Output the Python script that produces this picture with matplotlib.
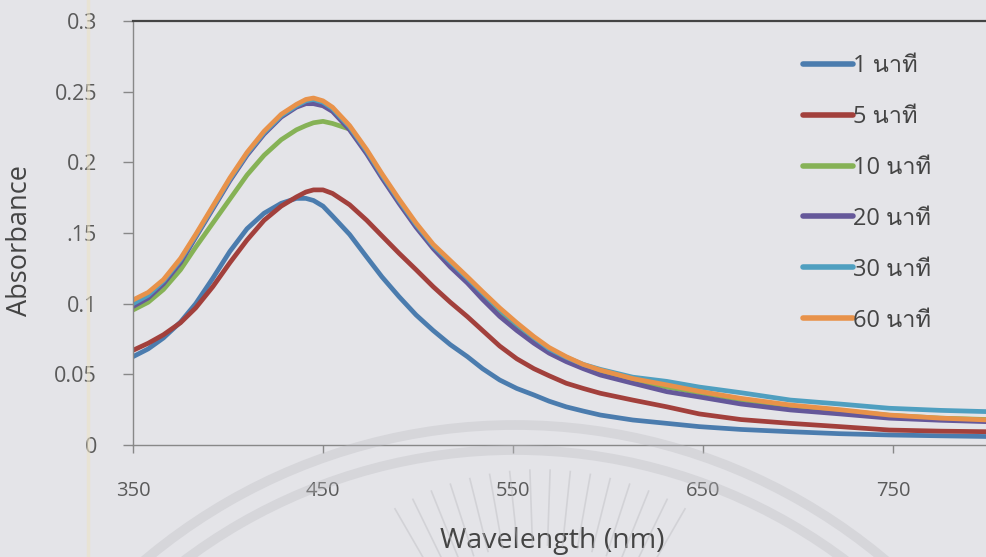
import matplotlib
matplotlib.use("Agg")
import numpy as np
import matplotlib.pyplot as plt
from matplotlib import font_manager as fm
from matplotlib.ft2font import FT2Font
from matplotlib.patches import Arc
from matplotlib.lines import Line2D

# Wavelength grid (nm) and absorbance for each reaction time
wavelength = [350, 358, 366, 375, 383, 392, 401, 410, 419, 428, 436, 441, 445, 450,
              455, 464, 473, 481, 490, 499, 508, 517, 526, 534, 543, 552, 561, 569,
              578, 587, 596, 613, 631, 648, 670, 696, 722, 748, 775, 800]

abs_1min = [0.0625, 0.068, 0.0757, 0.087, 0.100, 0.118, 0.137, 0.153, 0.164, 0.171,
            0.1745, 0.1745, 0.173, 0.169, 0.162, 0.149, 0.133, 0.119, 0.105, 0.092,
            0.081, 0.071, 0.0625, 0.054, 0.046, 0.040, 0.0354, 0.031, 0.027, 0.024,
            0.0212, 0.0177, 0.0153, 0.013, 0.011, 0.0094, 0.008, 0.0071, 0.0065, 0.006]
abs_5min = [0.067, 0.072, 0.078, 0.0865, 0.097, 0.112, 0.129, 0.145, 0.159, 0.169,
            0.1755, 0.179, 0.1805, 0.1805, 0.178, 0.170, 0.159, 0.148, 0.1357, 0.124,
            0.112, 0.101, 0.0908, 0.081, 0.070, 0.061, 0.054, 0.049, 0.0437, 0.040,
            0.0366, 0.0318, 0.027, 0.022, 0.018, 0.0153, 0.013, 0.0106, 0.0098, 0.0094]
abs_10min = [0.0955, 0.101, 0.110, 0.124, 0.140, 0.157, 0.174, 0.191, 0.205, 0.216,
             0.223, 0.226, 0.228, 0.229, 0.2275, 0.2235, 0.207, 0.190, 0.172, 0.155,
             0.140, 0.127, 0.116, 0.105, 0.094, 0.084, 0.075, 0.067, 0.061, 0.056,
             0.0515, 0.0455, 0.041, 0.037, 0.032, 0.0275, 0.0245, 0.021, 0.019, 0.018]
abs_20min = [0.098, 0.104, 0.114, 0.129, 0.147, 0.167, 0.187, 0.205, 0.220, 0.232,
             0.239, 0.2415, 0.2415, 0.240, 0.236, 0.223, 0.206, 0.189, 0.171, 0.154,
             0.139, 0.126, 0.1146, 0.103, 0.091, 0.081, 0.072, 0.065, 0.059, 0.054,
             0.0495, 0.0437, 0.0377, 0.034, 0.029, 0.0248, 0.022, 0.019, 0.0175, 0.0165]
abs_30min = [0.100, 0.106, 0.116, 0.131, 0.148, 0.168, 0.188, 0.206, 0.221, 0.233,
             0.240, 0.2435, 0.2445, 0.2425, 0.238, 0.225, 0.208, 0.191, 0.173, 0.156,
             0.141, 0.1295, 0.118, 0.1075, 0.096, 0.0855, 0.076, 0.068, 0.062, 0.057,
             0.0535, 0.048, 0.045, 0.041, 0.037, 0.0318, 0.029, 0.026, 0.0245, 0.0236]
abs_60min = [0.1026, 0.108, 0.117, 0.132, 0.149, 0.169, 0.189, 0.207, 0.222, 0.234,
             0.241, 0.2445, 0.2455, 0.2435, 0.239, 0.226, 0.209, 0.192, 0.174, 0.157,
             0.142, 0.1305, 0.119, 0.1085, 0.097, 0.0865, 0.0767, 0.069, 0.0625, 0.057,
             0.053, 0.047, 0.0425, 0.038, 0.033, 0.0283, 0.025, 0.0212, 0.019, 0.0177]

series_labels = ["1 นาที", "5 นาที", "10 นาที", "20 นาที", "30 นาที", "60 นาที"]
series_values = [abs_1min, abs_5min, abs_10min, abs_20min, abs_30min, abs_60min]
series_colors = ["#4b7cae", "#a2403c", "#86b256", "#65589a", "#4f9fc0", "#e8924a"]

y_ticks = [0, 0.05, 0.1, 0.15, 0.2, 0.25, 0.3]
y_tick_labels = ["0", "0.05", "0.1", ".15", "0.2", "0.25", "0.3"]
x_ticks = [350, 450, 550, 650, 750]


def find_thai_family():
    for f in fm.fontManager.ttflist:
        try:
            if 0x0E19 in FT2Font(f.fname).get_charmap():
                return f.name
        except Exception:
            pass
    return None


thai_family = find_thai_family()
families = ["Open Sans"] + ([thai_family] if thai_family else []) + ["DejaVu Sans"]
plt.rcParams["font.family"] = families

W, H = 987, 557
bg = "#e4e4e8"
fig = plt.figure(figsize=(W / 100, H / 100), dpi=100, facecolor=bg)

# faint printed seal and paper crease behind the chart (pixels, origin bottom-left)
seal_cx, seal_cy = 515, H - 1000
for r in (575, 550):
    fig.patches.append(Arc((seal_cx, seal_cy), 2 * r, 2 * r, theta1=30, theta2=150,
                           transform=None, color="#bcbcc1", lw=7, alpha=0.35,
                           zorder=0))
ray_cx, ray_cy = 540, H - 760
for ang in np.linspace(60, 120, 16):
    t = np.deg2rad(ang)
    fig.lines.append(Line2D([ray_cx + 215 * np.cos(t), ray_cx + 290 * np.cos(t)],
                            [ray_cy + 215 * np.sin(t), ray_cy + 290 * np.sin(t)],
                            transform=None, color="#bdbdc2", lw=1.2, alpha=0.45,
                            zorder=0))
fig.lines.append(Line2D([88, 88], [0, H], transform=None, color="#ece3c8",
                        lw=2.5, alpha=0.6, zorder=0))

ax = fig.add_axes([133 / W, (H - 445) / H, 855 / W, 424 / H])
ax.patch.set_alpha(0)

for label, vals, col in zip(series_labels, series_values, series_colors):
    ax.plot(wavelength, vals, color=col, lw=3.4, label=label,
            solid_capstyle="round", solid_joinstyle="round")

ax.set_xlim(350, 800)
ax.set_ylim(0, 0.3)
ax.set_xticks(x_ticks)
ax.set_xticklabels([str(v) for v in x_ticks])
ax.set_yticks(y_ticks)
ax.set_yticklabels(y_tick_labels)

ax.tick_params(axis="y", direction="out", length=7.5, width=1, color="#888888",
               labelsize=15.5, labelcolor="#5a5a5a", pad=18.5)
ax.tick_params(axis="x", direction="out", length=6, width=1, color="#888888",
               labelsize=14.5, labelcolor="#5a5a5a", pad=20)

ax.spines["right"].set_visible(False)
ax.spines["top"].set_color("#444444")
ax.spines["top"].set_linewidth(1.6)
for s in ("left", "bottom"):
    ax.spines[s].set_color("#888888")
    ax.spines[s].set_linewidth(1)

ax.set_xlabel("Wavelength (nm)", fontsize=20.5, color="#444444")
ax.xaxis.set_label_coords((552 - 133) / 855, (445 - 527) / 424)
ax.set_ylabel("Absorbance", fontsize=19.5, color="#444444")
ax.yaxis.set_label_coords((34 - 133) / 855, (445 - 240) / 424)

leg = ax.legend(loc="upper left", bbox_to_anchor=((803 - 133) / 855, (445 - 54) / 424),
                frameon=False, borderpad=0, borderaxespad=0,
                fontsize=17, handlelength=2.1, handletextpad=0.0,
                labelspacing=1.14, labelcolor="#444444")
for h in leg.get_lines():
    h.set_linewidth(4)

fig.savefig("out.png", dpi=100, facecolor=bg)
